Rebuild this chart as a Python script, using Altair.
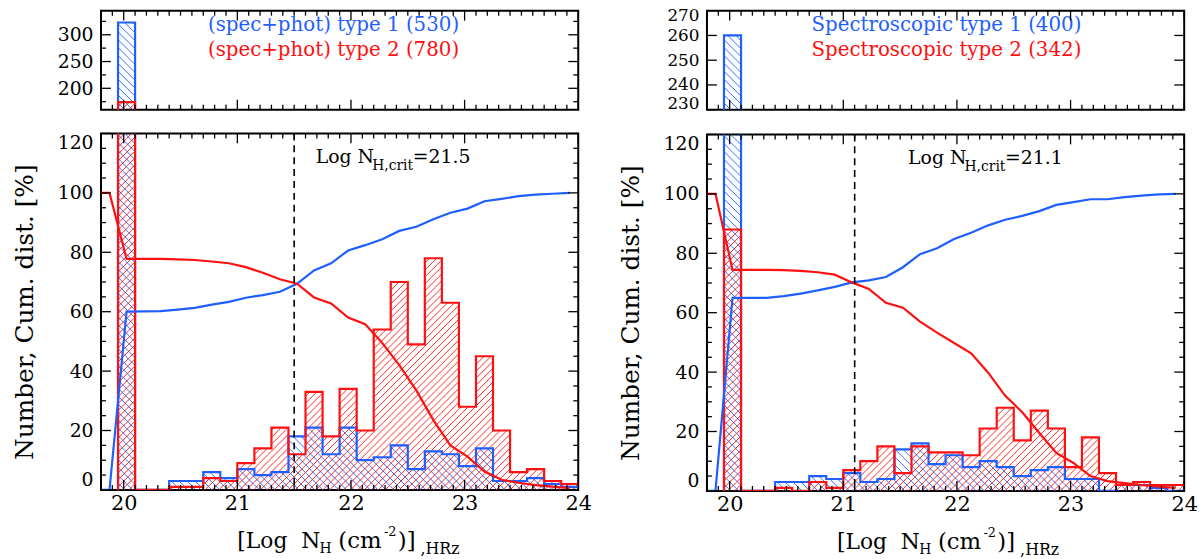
import math
import altair as alt
import pandas as pd

# ---------------- data ----------------
X_MIN, X_MAX = 19.8, 24.0
BIN_EDGES = [19.95, 20.10, 20.25, 20.40, 20.55, 20.70, 20.85, 21.00, 21.15, 21.30,
             21.45, 21.60, 21.75, 21.90, 22.05, 22.20, 22.35, 22.50, 22.65, 22.80,
             22.95, 23.10, 23.25, 23.40, 23.55, 23.70, 23.85, 24.00]
CUM_X = [19.8, 19.875, 20.025, 20.175, 20.325, 20.475, 20.625, 20.775, 20.925, 21.075,
         21.225, 21.375, 21.525, 21.675, 21.825, 21.975, 22.125, 22.275, 22.425, 22.575,
         22.725, 22.875, 23.025, 23.175, 23.325, 23.475, 23.625, 23.775, 23.925]

LEFT_BLUE = [323, 0, 0, 3, 3, 6, 4, 7, 5, 6, 18, 21, 12, 21, 10, 11, 15, 7, 13, 12,
             8, 14, 3, 3, 4, 2, 1]
LEFT_RED = [174, 0, 0, 1, 1, 4, 3, 9, 14, 21, 12, 33, 18, 34, 20, 54, 70, 49, 78, 63,
            28, 45, 20, 6, 7, 3, 2]
RIGHT_BLUE = [260, 0, 0, 3, 3, 5, 4, 6, 3, 4, 14, 16, 9, 12, 8, 10, 8, 5, 7, 8,
              4, 4, 0, 2, 2, 1, 0]
RIGHT_RED = [88, 0, 0, 1, 0, 3, 1, 7, 10, 15, 6, 15, 13, 13, 12, 21, 28, 17, 27, 21,
             8, 18, 6, 2, 3, 2, 2]

LEFT_CUM_BLUE = [0, 0, 60.0, 60.1, 60.2, 60.7, 61.3, 62.4, 63.3, 64.7, 65.6, 66.7,
                 69.4, 73.9, 76.3, 80.6, 82.4, 84.4, 87.2, 88.6, 91.1, 93.3, 94.7,
                 97.2, 98.0, 98.9, 99.4, 99.7, 100]
LEFT_CUM_RED = [100, 100, 77.8, 77.8, 77.8, 77.6, 77.4, 76.9, 76.3, 75.0, 73.1, 70.9,
                69.4, 64.8, 62.8, 58.0, 55.8, 49.5, 42.0, 33.5, 23.5, 15.0, 11.2,
                6.2, 3.4, 2.4, 1.6, 1.1, 0.6]
RIGHT_CUM_BLUE = [0, 0, 65.0, 65.0, 65.0, 65.6, 66.4, 67.5, 68.7, 70.2, 70.9, 72.0,
                  75.3, 79.7, 81.7, 84.8, 86.9, 89.4, 91.3, 92.6, 94.2, 96.3, 97.2,
                  98.2, 98.2, 98.9, 99.4, 99.8, 100]
RIGHT_CUM_RED = [100, 100, 74.4, 74.4, 74.4, 74.3, 74.1, 73.6, 72.8, 70.2, 68.0, 63.3,
                 61.7, 57.0, 53.3, 49.8, 46.3, 39.8, 32.0, 26.5, 19.5, 12.8, 9.4,
                 5.0, 3.3, 2.6, 2.0, 1.4, 1.0]

LEFT_CRIT = 21.5
RIGHT_CRIT = 21.1
LEFT_LEGEND = ["(spec+phot) type 1 (530)", "(spec+phot) type 2 (780)"]
RIGHT_LEGEND = ["Spectroscopic type 1 (400)", "Spectroscopic type 2 (342)"]

X_TICKS = [20, 21, 22, 23, 24]
MAIN_Y_TICKS = [0, 20, 40, 60, 80, 100, 120]
LEFT_TOP_TICKS = [200, 250, 300]
RIGHT_TOP_TICKS = [230, 240, 250, 260, 270]

# ---------------- styling ----------------
PANEL_W = 482
MAIN_H = 360
TOP_H = 100
BLUE = "#1f5fff"
RED = "#ff1010"
FONT = "DejaVu Serif"
NB = "\u00a0"


def step_frame(counts):
    xs = [BIN_EDGES[0]] + BIN_EDGES[:-1] + [BIN_EDGES[-1]]
    ys = [0] + list(counts) + [counts[-1]]
    return pd.DataFrame({"x": xs, "y": ys, "i": list(range(len(xs)))})


def hatch_frame(counts, ymin, ymax, height, direction, spacing):
    sx = PANEL_W / (X_MAX - X_MIN)
    sy = height / (ymax - ymin)
    rows = []
    for k, c in enumerate(counts):
        lo = max(0.0, ymin)
        hi = min(float(c), ymax)
        if hi <= lo:
            continue
        u0 = (BIN_EDGES[k] - X_MIN) * sx
        u1 = (BIN_EDGES[k + 1] - X_MIN) * sx
        v0 = (lo - ymin) * sy
        v1 = (hi - ymin) * sy
        if direction == "/":
            n0 = math.ceil((u0 - v1) / spacing)
            n1 = math.floor((u1 - v0) / spacing)
            for n in range(n0, n1 + 1):
                cc = n * spacing
                ua = max(u0, cc + v0)
                ub = min(u1, cc + v1)
                if ub - ua > 0.3:
                    rows.append((ua, ua - cc, ub, ub - cc))
        else:
            n0 = math.ceil((u0 + v0) / spacing)
            n1 = math.floor((u1 + v1) / spacing)
            for n in range(n0, n1 + 1):
                cc = n * spacing
                ua = max(u0, cc - v1)
                ub = min(u1, cc - v0)
                if ub - ua > 0.3:
                    rows.append((ua, cc - ua, ub, cc - ub))
    df = pd.DataFrame(rows, columns=["ua", "va", "ub", "vb"])
    return pd.DataFrame({
        "x": X_MIN + df["ua"] / sx,
        "y": ymin + df["va"] / sy,
        "x2": X_MIN + df["ub"] / sx,
        "y2": ymin + df["vb"] / sy,
    })


def minor_values(start, stop, step, majors):
    vals = []
    n = int(round((stop - start) / step))
    for i in range(n + 1):
        v = round(start + i * step, 4)
        if all(abs(v - m) > 1e-6 for m in majors):
            vals.append(v)
    return vals


def tick_layers(xs_major, xs_minor, ys_major, ys_minor, xenc, yenc, height):
    layers = []
    for vals, ln in ((xs_major, 10), (xs_minor, 5)):
        if not vals:
            continue
        d = pd.DataFrame({"t": vals})
        base = alt.Chart(d).mark_rule(color="black", strokeWidth=1.3)
        layers.append(base.encode(x=xenc("t"), y=alt.value(height), y2=alt.value(height - ln)))
        layers.append(base.encode(x=xenc("t"), y=alt.value(0), y2=alt.value(ln)))
    for vals, ln in ((ys_major, 10), (ys_minor, 5)):
        if not vals:
            continue
        d = pd.DataFrame({"t": vals})
        base = alt.Chart(d).mark_rule(color="black", strokeWidth=1.3)
        layers.append(base.encode(y=yenc("t"), x=alt.value(0), x2=alt.value(ln)))
        layers.append(base.encode(y=yenc("t"), x=alt.value(PANEL_W), x2=alt.value(PANEL_W - ln)))
    return layers


def make_panel(blue, red, ydom, height, y_axis, x_axis, ytick_major, ytick_minor,
               cum_blue=None, cum_red=None, crit=None, crit_x=None,
               legend=None, legend_x=None, title_x=None):
    xs = alt.Scale(domain=[X_MIN, X_MAX], nice=False, zero=False)
    ys = alt.Scale(domain=ydom, nice=False, zero=False)

    def xenc(f):
        return alt.X(f"{f}:Q", scale=xs, axis=x_axis)

    def yenc(f):
        return alt.Y(f"{f}:Q", scale=ys, axis=y_axis)

    layers = []
    # hatching
    for counts, col, direc, sp in ((blue, BLUE, "\\", 8.0), (red, RED, "/", 7.0)):
        h = hatch_frame(counts, ydom[0], ydom[1], height, direc, sp)
        layers.append(alt.Chart(h).mark_rule(color=col, strokeWidth=0.9).encode(
            x=xenc("x"), y=yenc("y"), x2="x2:Q", y2="y2:Q"))
    # histogram outlines
    for counts, col in ((blue, BLUE), (red, RED)):
        layers.append(alt.Chart(step_frame(counts)).mark_line(
            color=col, strokeWidth=2.2, interpolate="step-after", clip=True).encode(
            x=xenc("x"), y=yenc("y"), order="i:Q"))
    # cumulative distributions
    if cum_blue is not None:
        for vals, col in ((cum_blue, BLUE), (cum_red, RED)):
            d = pd.DataFrame({"x": CUM_X, "y": vals, "i": list(range(len(CUM_X)))})
            layers.append(alt.Chart(d).mark_line(color=col, strokeWidth=2.2, clip=True).encode(
                x=xenc("x"), y=yenc("y"), order="i:Q"))
    # critical value line and label
    if crit is not None:
        layers.append(alt.Chart(pd.DataFrame({"x": [crit]})).mark_rule(
            color="black", strokeWidth=1.6, strokeDash=[7, 5]).encode(x=xenc("x")))
        pieces = [("Log N", 0, 24, 19), ("H,crit", 57, 33, 14), (f"={crit}", 98, 24, 19)]
        for txt, dx, py, fs in pieces:
            layers.append(alt.Chart(pd.DataFrame({"x": [crit_x], "t": [txt]})).mark_text(
                align="left", baseline="middle", font=FONT, fontSize=fs, color="black",
                dx=dx).encode(x=xenc("x"), y=alt.value(py), text="t:N"))
    # axis title pieces below the main panel
    if title_x is not None:
        pieces = [(f"[Log{NB}{NB}N", 0, 412, 22), ("H", 83, 420, 14), ("(cm", 102, 412, 23),
                  ("-2", 148, 403, 13), (")]", 162, 412, 23), (",HRz", 185, 420, 16)]
        for txt, dx, py, fs in pieces:
            layers.append(alt.Chart(pd.DataFrame({"x": [title_x], "t": [txt]})).mark_text(
                align="left", baseline="middle", font=FONT, fontSize=fs, color="black",
                dx=dx).encode(x=xenc("x"), y=alt.value(py), text="t:N"))
    # legend in the top panels
    if legend is not None:
        for txt, col, py in ((legend[0], BLUE, 15), (legend[1], RED, 40)):
            layers.append(alt.Chart(pd.DataFrame({"x": [legend_x], "t": [txt]})).mark_text(
                align="left", baseline="middle", font=FONT, fontSize=20, color=col).encode(
                x=xenc("x"), y=alt.value(py), text="t:N"))
    # inward ticks on all four sides
    layers += tick_layers(X_TICKS, minor_values(X_MIN, X_MAX, 0.1, X_TICKS),
                          ytick_major, ytick_minor, xenc, yenc, height)
    return alt.layer(*layers).properties(width=PANEL_W, height=height)


main_x_axis = alt.Axis(values=X_TICKS, format="d", ticks=False, domain=False, grid=False,
                       title=None, labelFont=FONT, labelFontSize=21, labelPadding=3,
                       labelColor="black", labelFlush=False)


def main_y_axis():
    return alt.Axis(values=MAIN_Y_TICKS, ticks=False, domain=False, grid=False,
                    title="Number, Cum. dist. [%]", titleFont=FONT, titleFontSize=25,
                    titleFontWeight="normal", titleColor="black", titlePadding=20,
                    labelFont=FONT, labelFontSize=19, labelPadding=8, labelColor="black",
                    labelFlush=True, labelOverlap=False)


def top_y_axis(vals, flush, size, flush_offset):
    return alt.Axis(values=vals, ticks=False, domain=False, grid=False, title=None,
                    labelFont=FONT, labelFontSize=size, labelPadding=8, labelColor="black",
                    labelFlush=flush, labelFlushOffset=flush_offset, labelOverlap=False)


left_top = make_panel(LEFT_BLUE, LEFT_RED, [160, 345], TOP_H,
                      top_y_axis(LEFT_TOP_TICKS, False, 19, 0),
                      None, LEFT_TOP_TICKS, [175, 225, 275, 325],
                      legend=LEFT_LEGEND, legend_x=20.741)
left_main = make_panel(LEFT_BLUE, LEFT_RED, [0, 120], MAIN_H, main_y_axis(), main_x_axis,
                       MAIN_Y_TICKS, minor_values(0, 120, 5, MAIN_Y_TICKS),
                       cum_blue=LEFT_CUM_BLUE, cum_red=LEFT_CUM_RED, crit=LEFT_CRIT,
                       crit_x=21.69, title_x=21.0)
right_top = make_panel(RIGHT_BLUE, RIGHT_RED, [230, 270], TOP_H,
                       top_y_axis(RIGHT_TOP_TICKS, True, 17, 3), None, RIGHT_TOP_TICKS, [],
                       legend=RIGHT_LEGEND, legend_x=20.72)
right_main = make_panel(RIGHT_BLUE, RIGHT_RED, [0, 120], MAIN_H, main_y_axis(), main_x_axis,
                        MAIN_Y_TICKS, minor_values(0, 120, 5, MAIN_Y_TICKS),
                        cum_blue=RIGHT_CUM_BLUE, cum_red=RIGHT_CUM_RED, crit=RIGHT_CRIT,
                        crit_x=21.57, title_x=20.944)

left = alt.vconcat(left_top, left_main, spacing=20)
right = alt.vconcat(right_top, right_main, spacing=20)

chart = alt.hconcat(left, right, spacing=24).properties(
    padding={"left": 11, "top": 3, "right": 5, "bottom": 0},
    background="white",
).configure_view(stroke="black", strokeWidth=2).configure_axis(labelColor="black")

chart.save("out.html", embed_options={"renderer": "svg", "actions": False})
